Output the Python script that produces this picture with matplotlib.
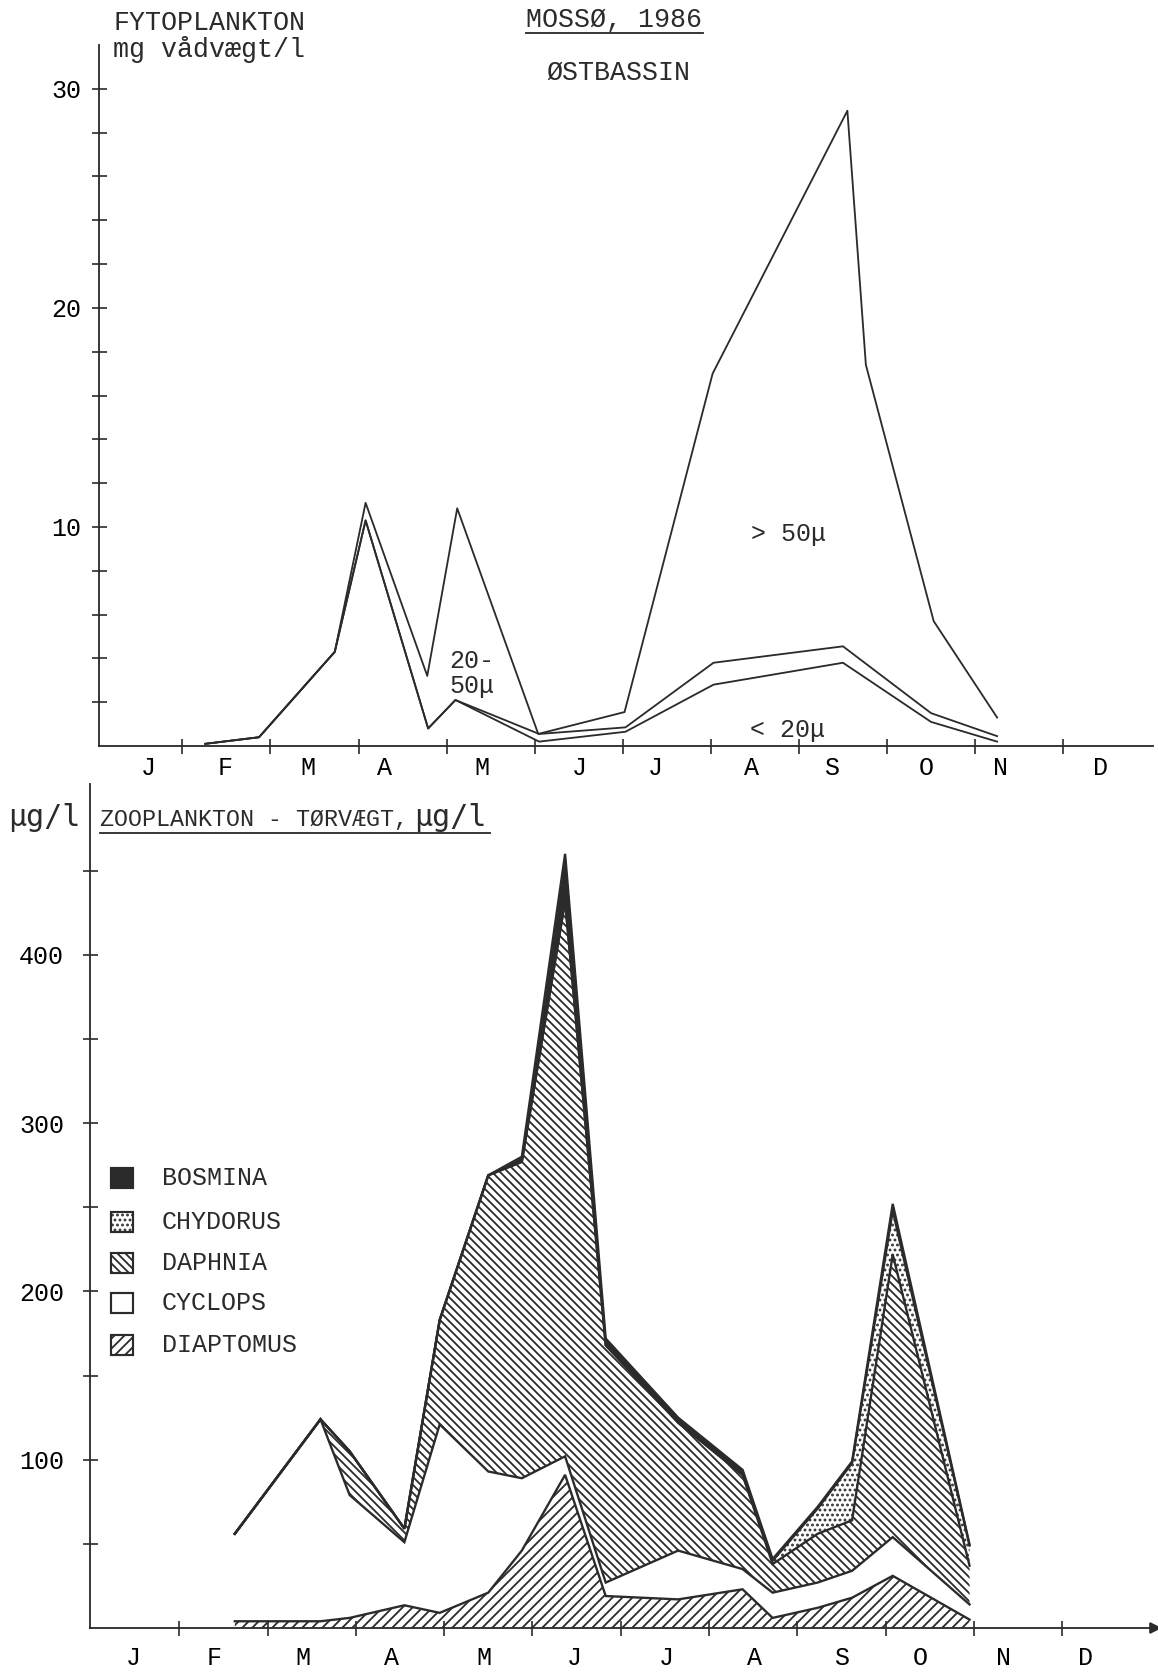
import matplotlib

matplotlib.use("Agg")
import matplotlib.pyplot as plt
import numpy as np
from matplotlib.patches import Rectangle

W, H, DPI = 1158, 1672, 120
INK = "#2b2b2b"

# month labels (typed slightly irregularly under each month)
month_labels = ["J", "F", "M", "A", "M", "J", "J", "A", "S", "O", "N", "D"]
top_label_pos = [0.61, 1.48, 2.43, 3.29, 4.40, 5.51, 6.37, 7.46, 8.37, 9.45, 10.29, 11.42]
bot_label_pos = [0.48, 1.39, 2.40, 3.40, 4.45, 5.48, 6.52, 7.52, 8.50, 9.39, 10.34, 11.26]

# fytoplankton, mg wet weight per litre (cumulative size fractions), x in months
fyto_dates_total = [1.26, 1.87, 2.73, 3.08, 3.78, 4.12, 5.04, 6.02, 7.02, 8.55, 8.76, 9.53, 10.25]
fyto_total = [0.1, 0.4, 4.3, 11.1, 3.2, 10.85, 0.55, 1.55, 17.0, 29.0, 17.4, 5.7, 1.3]

fyto_dates_small = [1.26, 1.87, 2.73, 3.08, 3.79, 4.10, 5.05, 6.03, 7.03, 8.50, 9.50, 10.25]
fyto_lt50 = [0.1, 0.4, 4.3, 10.3, 0.8, 2.1, 0.55, 0.85, 3.8, 4.55, 1.5, 0.45]
fyto_lt20 = [0.1, 0.4, 4.3, 10.3, 0.8, 2.1, 0.2, 0.65, 2.8, 3.8, 1.1, 0.2]

# zooplankton dry weight, ug/l per group
zoo_dates = [1.63, 2.60, 2.93, 3.55, 3.95, 4.50, 4.88, 5.37, 5.83, 6.65, 7.38, 7.72, 8.23, 8.62, 9.08, 9.95]
diaptomus = [4, 4, 6, 13.5, 9, 21, 46, 91, 19, 17, 23, 6, 12, 18, 31, 5]
cyclops = [52, 120, 73, 37.5, 112, 72, 43, 11, 8, 29, 12, 15, 15, 16, 23, 9]
daphnia = [0, 0, 26, 8, 62, 176, 188, 330, 141, 76, 56, 17, 29, 30, 168, 23]
chydorus = [0, 0, 0, 0, 0, 0, 0, 0, 0, 0, 0, 2, 15, 34, 26, 12]
bosmina = [0, 0, 0, 0, 0, 0, 3, 28, 4, 3, 3, 1, 1, 1, 4, 0.5]

legend_names = ["BOSMINA", "CHYDORUS", "DAPHNIA", "CYCLOPS", "DIAPTOMUS"]

HATCH_DAPHNIA = "\\" * 5
HATCH_DIAPTOMUS = "/" * 4
HATCH_CHYDORUS = "...."

plt.rcParams["font.family"] = ["Liberation Mono", "DejaVu Sans Mono"]
plt.rcParams["hatch.linewidth"] = 1.1
plt.rcParams["hatch.color"] = INK


def fx(px):
    return px / W


def fy(py):
    return 1 - py / H


fig = plt.figure(figsize=(W / DPI, H / DPI), dpi=DPI, facecolor="white")

# ---------------- top panel: fytoplankton ----------------
ax1 = fig.add_axes([fx(99), fy(746), (1153 - 99) / W, (746 - 45) / H])
ax1.set_xlim(0.053, 12.02)
ax1.set_ylim(0, 32)

ax1.plot(fyto_dates_total, fyto_total, color=INK, lw=1.1)
ax1.plot(fyto_dates_small, fyto_lt50, color=INK, lw=1.1)
ax1.plot(fyto_dates_small, fyto_lt20, color=INK, lw=1.1)

ax1.set_yticks([10, 20, 30])
ax1.set_yticks(np.arange(2, 32, 2), minor=True)
ax1.set_xticks(range(1, 12))
ax1.set_xticklabels([])
ax1.set_xticks(top_label_pos, month_labels, minor=True)
ax1.tick_params(which="both", direction="inout", length=9, width=1.0, color=INK, labelsize=15)
ax1.tick_params(axis="y", pad=6)
ax1.tick_params(axis="x", which="minor", length=0, pad=6)

for s in ["top", "right"]:
    ax1.spines[s].set_visible(False)
for s in ["left", "bottom"]:
    ax1.spines[s].set_color(INK)
    ax1.spines[s].set_linewidth(1.1)

# labels inside the top panel
fig.text(fx(113), fy(30), "FYTOPLANKTON", fontsize=16, color=INK, va="baseline")
fig.text(fx(113), fy(57), "mg vådvægt/l", fontsize=16, color=INK, va="baseline")
fig.text(fx(526), fy(27), "MOSSØ, 1986", fontsize=16, color=INK, va="baseline")
fig.add_artist(plt.Line2D([fx(526), fx(703)], [fy(33), fy(33)], color=INK, lw=1.1))
fig.text(fx(546), fy(80), "ØSTBASSIN", fontsize=16, color=INK, va="baseline")
fig.text(fx(751), fy(541), "> 50μ", fontsize=15, color=INK, va="baseline")
fig.text(fx(449), fy(668), "20-", fontsize=15, color=INK, va="baseline")
fig.text(fx(449), fy(693), "50μ", fontsize=15, color=INK, va="baseline")
fig.text(fx(750), fy(737), "< 20μ", fontsize=15, color=INK, va="baseline")

# ---------------- bottom panel: zooplankton ----------------
ax2 = fig.add_axes([fx(90), fy(1628), (1155 - 90) / W, (1628 - 784) / H])
ax2.set_xlim(-0.01, 12.05)
ax2.set_ylim(0, 501.5)

x = np.array(zoo_dates)
tops = np.cumsum(np.array([diaptomus, cyclops, daphnia, chydorus, bosmina], dtype=float), axis=0)

ax2.fill_between(x, 0, tops[0], facecolor="white", edgecolor=INK, hatch=HATCH_DIAPTOMUS, lw=0)
ax2.fill_between(x, tops[1], tops[2], facecolor="white", edgecolor=INK, hatch=HATCH_DAPHNIA, lw=0)
ax2.fill_between(x, tops[2], tops[3], facecolor="white", edgecolor=INK, hatch=HATCH_CHYDORUS, lw=0)
ax2.fill_between(x, tops[3], tops[4], facecolor=INK, edgecolor=INK, lw=0)
for t in tops:
    ax2.plot(x, t, color=INK, lw=1.4, solid_joinstyle="miter")

ax2.set_yticks([100, 200, 300, 400])
ax2.set_yticks(np.arange(50, 500, 50), minor=True)
ax2.set_xticks(range(1, 12))
ax2.set_xticklabels([])
ax2.set_xticks(bot_label_pos, month_labels, minor=True)
ax2.tick_params(which="both", direction="inout", length=9, width=1.0, color=INK, labelsize=15)
ax2.tick_params(axis="y", pad=11)
ax2.tick_params(axis="x", which="minor", length=0, pad=11)
for s in ["top", "right"]:
    ax2.spines[s].set_visible(False)
for s in ["left", "bottom"]:
    ax2.spines[s].set_color(INK)
    ax2.spines[s].set_linewidth(1.1)
ax2.plot(1, 0, ">", color=INK, markersize=6, transform=ax2.transAxes, clip_on=False)

fig.text(fx(8), fy(826), "μg/l", fontsize=18, family="DejaVu Sans Mono", color=INK, va="baseline")
fig.text(fx(100), fy(826), "ZOOPLANKTON - TØRVÆGT,", fontsize=14, color=INK, va="baseline")
fig.text(fx(414), fy(826), "μg/l", fontsize=18, family="DejaVu Sans Mono", color=INK, va="baseline")
fig.add_artist(plt.Line2D([fx(100), fx(490)], [fy(833), fy(833)], color=INK, lw=1.1))

# legend boxes drawn by hand, like the original
legend_styles = [
    dict(facecolor=INK, hatch=None),
    dict(facecolor="white", hatch=HATCH_CHYDORUS),
    dict(facecolor="white", hatch=HATCH_DAPHNIA),
    dict(facecolor="white", hatch=None),
    dict(facecolor="white", hatch=HATCH_DIAPTOMUS),
]
legend_y = [1178, 1222, 1263, 1303, 1345]
for name, style, yc in zip(legend_names, legend_styles, legend_y):
    box = Rectangle((fx(111), fy(yc + 10)), 22 / W, 20 / H, transform=fig.transFigure,
                    edgecolor=INK, lw=1.3, **style)
    fig.add_artist(box)
    fig.text(fx(162), fy(yc), name, fontsize=15, color=INK, va="center")

fig.savefig("out.png", dpi=DPI, facecolor="white")
